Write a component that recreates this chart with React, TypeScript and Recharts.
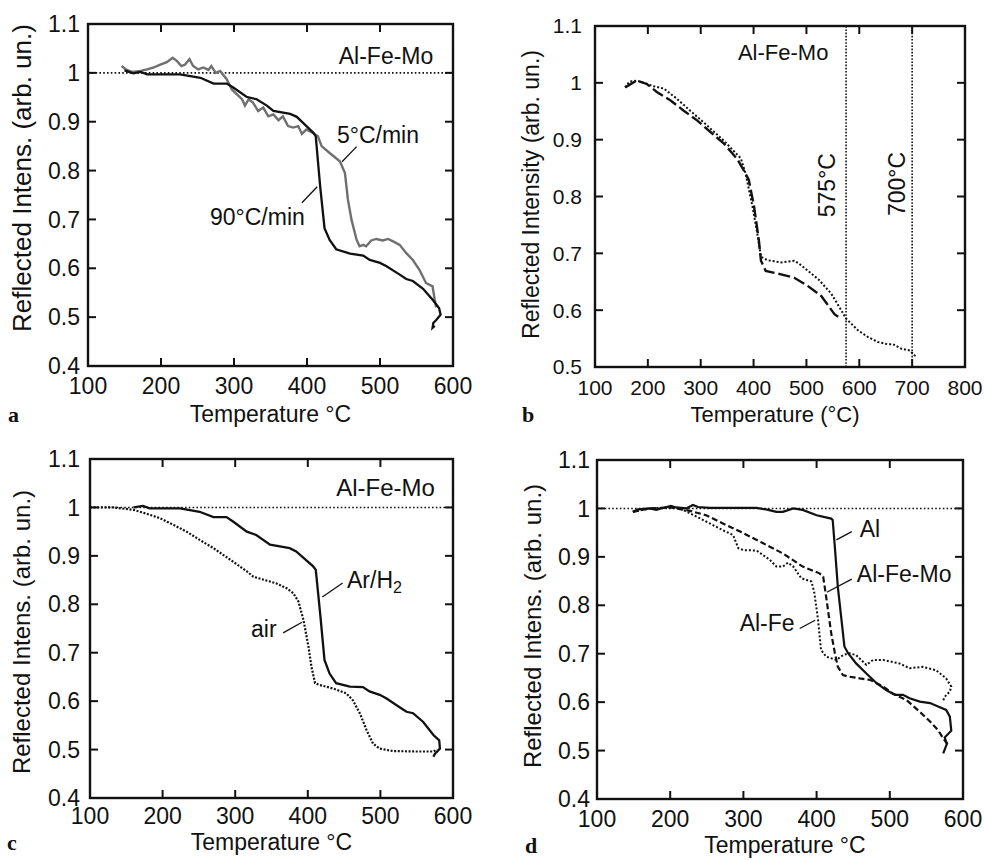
import { LineChart, Line, XAxis, YAxis, ReferenceLine, ReferenceDot, Label } from "recharts";

const INK = "#111";
const FONT = '"Liberation Sans", Arial, Helvetica, sans-serif';
const SERIF = '"Liberation Serif", "DejaVu Serif", serif';

// panel a: heating rate, Al-Fe-Mo
const aFastT = [150, 162, 172, 181, 200, 226, 254, 272, 290, 299, 317, 331, 345, 354, 377, 386, 409, 412, 418, 424, 431, 440, 459, 477, 486, 500, 509, 527, 536, 545, 559, 573, 581, 583, 577, 573, 572, 575];
const aFastV = [1.005, 0.999, 1.002, 0.997, 0.997, 0.997, 0.99, 0.978, 0.978, 0.97, 0.951, 0.946, 0.933, 0.922, 0.916, 0.91, 0.877, 0.87, 0.768, 0.682, 0.658, 0.639, 0.63, 0.626, 0.617, 0.611, 0.604, 0.587, 0.578, 0.574, 0.558, 0.534, 0.518, 0.505, 0.494, 0.488, 0.478, 0.482];
const aSlowT = [146, 153, 160, 172, 181, 190, 199, 208, 216, 222, 228, 233, 239, 244, 251, 258, 265, 269, 275, 281, 290, 297, 304, 311, 315, 320, 326, 333, 340, 347, 354, 361, 367, 374, 381, 388, 393, 399, 408, 415, 420, 431, 445, 452, 456, 461, 468, 472, 477, 481, 488, 495, 504, 511, 518, 527, 536, 545, 554, 563, 572, 575, 577];
const aSlowV = [1.014, 1.006, 1.002, 1.004, 1.007, 1.011, 1.017, 1.022, 1.031, 1.024, 1.014, 1.017, 1.028, 1.014, 1.007, 1.011, 1.006, 1.014, 1.0, 1.004, 0.987, 0.966, 0.956, 0.946, 0.933, 0.946, 0.939, 0.922, 0.929, 0.911, 0.915, 0.903, 0.911, 0.891, 0.888, 0.891, 0.875, 0.884, 0.877, 0.87, 0.85, 0.836, 0.819, 0.795, 0.741, 0.699, 0.658, 0.645, 0.648, 0.645, 0.657, 0.66, 0.657, 0.66, 0.655, 0.648, 0.631, 0.617, 0.597, 0.57, 0.563, 0.535, 0.52];

// panel b: two runs up to 575 and 700 C
const bDotT = [157, 165, 179, 192, 211, 230, 255, 280, 306, 344, 376, 385, 398, 407, 414, 426, 452, 477, 486, 502, 524, 547, 562, 575, 585, 597, 616, 635, 654, 664, 680, 696, 705, 704];
const bDotV = [0.992, 1.002, 1.004, 1.0, 0.994, 0.99, 0.972, 0.951, 0.93, 0.898, 0.867, 0.84, 0.782, 0.735, 0.694, 0.688, 0.684, 0.687, 0.682, 0.67, 0.653, 0.629, 0.606, 0.585, 0.576, 0.565, 0.553, 0.544, 0.54, 0.54, 0.532, 0.529, 0.52, 0.515];
const bDashT = [157, 179, 198, 217, 243, 268, 293, 319, 344, 369, 382, 391, 401, 410, 414, 423, 452, 477, 502, 528, 553, 565];
const bDashV = [0.992, 1.004, 0.998, 0.984, 0.969, 0.951, 0.934, 0.913, 0.893, 0.866, 0.845, 0.829, 0.782, 0.723, 0.687, 0.669, 0.663, 0.657, 0.643, 0.625, 0.593, 0.585];

// panel c: atmosphere
const cArT = [160, 173, 182, 224, 251, 270, 288, 297, 316, 329, 348, 375, 384, 407, 411, 417, 423, 430, 439, 458, 476, 485, 499, 508, 527, 536, 545, 559, 573, 581, 582, 575, 573];
const cArV = [1.0, 1.003, 0.998, 0.998, 0.991, 0.98, 0.98, 0.971, 0.95, 0.943, 0.923, 0.916, 0.909, 0.879, 0.871, 0.781, 0.685, 0.657, 0.637, 0.63, 0.629, 0.62, 0.613, 0.606, 0.587, 0.578, 0.575, 0.557, 0.53, 0.519, 0.502, 0.491, 0.485];
const cAirT = [100, 132, 160, 178, 196, 215, 233, 251, 270, 297, 316, 325, 343, 357, 371, 380, 387, 394, 401, 405, 410, 417, 435, 453, 462, 472, 481, 490, 499, 517, 550, 573, 578];
const cAirV = [1.0, 1.0, 0.995, 0.987, 0.978, 0.964, 0.95, 0.933, 0.916, 0.888, 0.868, 0.857, 0.849, 0.843, 0.833, 0.823, 0.806, 0.768, 0.712, 0.671, 0.637, 0.633, 0.626, 0.616, 0.602, 0.574, 0.54, 0.512, 0.502, 0.497, 0.496, 0.496, 0.5];

// panel d: alloy comparison
const dAlT = [149, 156, 172, 181, 190, 201, 208, 222, 231, 238, 254, 272, 318, 331, 345, 354, 368, 381, 400, 420, 422, 425, 429, 434, 438, 443, 454, 468, 482, 495, 507, 518, 527, 541, 555, 566, 577, 582, 584, 575, 578, 573];
const dAlV = [0.993, 0.998, 1.0, 0.997, 1.001, 1.005, 1.002, 1.0, 1.007, 1.003, 1.001, 1.001, 1.001, 0.998, 0.993, 0.993, 1.0, 0.997, 0.986, 0.979, 0.976, 0.919, 0.838, 0.77, 0.715, 0.701, 0.68, 0.659, 0.639, 0.625, 0.615, 0.615, 0.608, 0.601, 0.598, 0.591, 0.584, 0.57, 0.541, 0.527, 0.514, 0.494];
const dMoT = [149, 172, 201, 227, 249, 272, 300, 327, 354, 381, 404, 409, 413, 420, 425, 429, 436, 443, 459, 473, 491, 504, 523, 541, 555, 566, 573, 580];
const dMoV = [0.993, 1.0, 1.002, 0.995, 0.986, 0.969, 0.949, 0.928, 0.907, 0.88, 0.866, 0.859, 0.818, 0.742, 0.701, 0.673, 0.656, 0.653, 0.649, 0.646, 0.632, 0.618, 0.604, 0.58, 0.56, 0.542, 0.525, 0.511];
const dFeT = [149, 172, 201, 213, 227, 249, 272, 286, 293, 300, 318, 336, 345, 354, 361, 368, 379, 393, 397, 402, 406, 413, 427, 436, 445, 454, 468, 477, 491, 513, 527, 545, 563, 577, 584, 582, 575, 572];
const dFeV = [0.993, 1.0, 1.002, 1.0, 0.99, 0.973, 0.955, 0.945, 0.918, 0.914, 0.913, 0.894, 0.88, 0.88, 0.888, 0.88, 0.856, 0.849, 0.825, 0.77, 0.708, 0.694, 0.687, 0.697, 0.701, 0.697, 0.677, 0.687, 0.687, 0.68, 0.67, 0.673, 0.666, 0.649, 0.632, 0.622, 0.611, 0.6];

const tempTicks = [100, 200, 300, 400, 500, 600];
const tempTicksWide = [100, 200, 300, 400, 500, 600, 700, 800];
const intensTicks = [0.4, 0.5, 0.6, 0.7, 0.8, 0.9, 1, 1.1];
const intensTicksB = [0.5, 0.6, 0.7, 0.8, 0.9, 1, 1.1];

type Pt = { t: number; v: number };
const zip = (ts: number[], vs: number[]): Pt[] => ts.map((t, i) => ({ t, v: vs[i] }));

type Series = { name: string; data: Pt[]; color: string; width: number; dash?: string };
type Note = { t: number; v: number; text: string; anchor: "start" | "middle" | "end"; sub?: string; size?: number; rotate?: boolean };
type Leader = [number, number, number, number];

interface PanelProps {
  left: number;
  top: number;
  width: number;
  height: number;
  marginTop: number;
  marginRight: number;
  yWidth: number;
  xHeight: number;
  xTicks: number[];
  yTicks: number[];
  tickFont: number;
  xTickMargin: number;
  yTickMargin: number;
  series: Series[];
  notes: Note[];
  leaders: Leader[];
  refY?: number;
  refX?: number[];
  xTitle: string;
  xTitleFont: number;
  xTitleDy: number;
  xTitleDx: number;
  yTitle: string;
  yTitleFont: number;
  yTitleX: number;
  yTitleDy: number;
  letter: string;
  letterX: number;
}

const TICK_LEN = 8;

function Panel(p: PanelProps) {
  // each axis runs exactly from its first to its last tick
  const xLo = p.xTicks[0];
  const xHi = p.xTicks[p.xTicks.length - 1];
  const yLo = p.yTicks[0];
  const yHi = p.yTicks[p.yTicks.length - 1];
  const plotW = p.width - p.yWidth - p.marginRight;
  const plotH = p.height - p.marginTop - p.xHeight;

  // tick label plus inward tick marks on the bottom and top edges
  const XTick = (props: any) => {
    const { x, y, payload } = props;
    const base = y - p.xTickMargin;
    const inner = payload.value !== xLo && payload.value !== xHi;
    return (
      <g>
        {inner && <line x1={x} x2={x} y1={base} y2={base - TICK_LEN} stroke={INK} strokeWidth={2} />}
        {inner && <line x1={x} x2={x} y1={base - plotH} y2={base - plotH + TICK_LEN} stroke={INK} strokeWidth={2} />}
        <text x={x} y={y} dy="0.71em" textAnchor="middle" fontSize={p.tickFont} fontFamily={FONT} fill={INK}>
          {payload.value}
        </text>
      </g>
    );
  };

  // tick label plus inward tick marks on the left and right edges
  const YTick = (props: any) => {
    const { x, y, payload } = props;
    const base = x + p.yTickMargin;
    const inner = payload.value !== yLo && payload.value !== yHi;
    return (
      <g>
        {inner && <line x1={base} x2={base + TICK_LEN} y1={y} y2={y} stroke={INK} strokeWidth={2} />}
        {inner && <line x1={base + plotW} x2={base + plotW - TICK_LEN} y1={y} y2={y} stroke={INK} strokeWidth={2} />}
        <text x={x} y={y} dy="0.355em" textAnchor="end" fontSize={p.tickFont} fontFamily={FONT} fill={INK}>
          {payload.value}
        </text>
      </g>
    );
  };

  return (
    <div style={{ position: "absolute", left: p.left, top: p.top, width: p.width, height: p.height }}>
      <LineChart
        width={p.width}
        height={p.height}
        margin={{ top: p.marginTop, right: p.marginRight, left: 0, bottom: 0 }}
      >
        <XAxis
          dataKey="t"
          type="number"
          domain={[xLo, xHi]}
          ticks={p.xTicks}
          interval={0}
          height={p.xHeight}
          tickSize={0}
          tickMargin={p.xTickMargin}
          axisLine={false}
          tickLine={false}
          tick={XTick}
        >
          <Label
            content={({ viewBox }: any) => {
              const base = viewBox.y + p.xTitleDy;
              return (
                <g>
                  {/* box frame around the plot area */}
                  <rect
                    x={viewBox.x}
                    y={viewBox.y - plotH}
                    width={viewBox.width}
                    height={plotH}
                    fill="none"
                    stroke={INK}
                    strokeWidth={2.4}
                  />
                  <text x={viewBox.x + viewBox.width / 2 + p.xTitleDx} y={base} textAnchor="middle" fontSize={p.xTitleFont} fontFamily={FONT} fill={INK}>
                    {p.xTitle}
                  </text>
                  <text x={p.letterX} y={base} fontSize={22} fontWeight="bold" fontFamily={SERIF} fill={INK}>
                    {p.letter}
                  </text>
                </g>
              );
            }}
          />
        </XAxis>
        <YAxis
          type="number"
          domain={[yLo, yHi]}
          ticks={p.yTicks}
          interval={0}
          width={p.yWidth}
          tickSize={0}
          tickMargin={p.yTickMargin}
          axisLine={false}
          tickLine={false}
          tick={YTick}
        >
          <Label
            content={({ viewBox }: any) => {
              const cx = p.yTitleX;
              const cy = viewBox.y + viewBox.height / 2 + p.yTitleDy;
              return (
                <text x={cx} y={cy} transform={`rotate(-90, ${cx}, ${cy})`} textAnchor="middle" dominantBaseline="central" fontSize={p.yTitleFont} fontFamily={FONT} fill={INK}>
                  {p.yTitle}
                </text>
              );
            }}
          />
        </YAxis>

        {p.refY !== undefined && (
          <ReferenceLine y={p.refY} stroke={INK} strokeWidth={1.6} strokeDasharray="1.6 2.2" />
        )}
        {(p.refX || []).map((x) => (
          <ReferenceLine key={x} x={x} stroke={INK} strokeWidth={1.6} strokeDasharray="1.6 1.6" />
        ))}

        {p.series.map((s) => (
          <Line
            key={s.name}
            data={s.data}
            dataKey="v"
            type="linear"
            stroke={s.color}
            strokeWidth={s.width}
            strokeDasharray={s.dash}
            dot={false}
            activeDot={false}
            isAnimationActive={false}
          />
        ))}

        {p.leaders.map(([ta, va, tb, vb], i) => (
          <ReferenceLine
            key={i}
            segment={[{ x: ta, y: va }, { x: tb, y: vb }]}
            stroke={INK}
            strokeWidth={1.3}
          />
        ))}

        {p.notes.map((n) => (
          <ReferenceDot
            key={n.text}
            x={n.t}
            y={n.v}
            r={0}
            shape={(props: any) => (
              <text
                x={props.cx}
                y={props.cy}
                transform={n.rotate ? `rotate(-90, ${props.cx}, ${props.cy})` : undefined}
                textAnchor={n.anchor}
                dominantBaseline={n.rotate ? "auto" : "central"}
                fontSize={n.size || 23}
                fontFamily={FONT}
                fill={INK}
              >
                {n.text}
                {n.sub && (
                  <tspan dy={7} fontSize={(n.size || 23) * 0.7}>
                    {n.sub}
                  </tspan>
                )}
              </text>
            )}
          />
        ))}
      </LineChart>
    </div>
  );
}

export default function App() {
  return (
    <div style={{ position: "absolute", left: 0, top: 0, width: 984, height: 860, background: "#fff", fontFamily: FONT }}>
      <Panel
        left={0}
        top={0}
        width={480}
        height={440}
        marginTop={24}
        marginRight={27}
        yWidth={88}
        xHeight={74}
        xTicks={tempTicks}
        yTicks={intensTicks}
        tickFont={23}
        xTickMargin={12}
        yTickMargin={8}
        refY={1}
        series={[
          { name: "5°C/min", data: zip(aSlowT, aSlowV), color: "#6f6f6f", width: 2.4 },
          { name: "90°C/min", data: zip(aFastT, aFastV), color: INK, width: 2.3 },
        ]}
        notes={[
          { t: 573, v: 1.035, text: "Al-Fe-Mo", anchor: "end" },
          { t: 441, v: 0.873, text: "5°C/min", anchor: "start" },
          { t: 397, v: 0.705, text: "90°C/min", anchor: "end" },
        ]}
        leaders={[
          [468, 0.849, 448, 0.818],
          [393, 0.734, 414, 0.767],
        ]}
        xTitle="Temperature °C"
        xTitleFont={23}
        xTitleDy={56}
        xTitleDx={0}
        yTitle="Reflected Intens. (arb. un.)"
        yTitleFont={26}
        yTitleX={22}
        yTitleDy={-17}
        letter="a"
        letterX={8}
      />
      <Panel
        left={490}
        top={0}
        width={494}
        height={440}
        marginTop={26}
        marginRight={19}
        yWidth={105}
        xHeight={73}
        xTicks={tempTicksWide}
        yTicks={intensTicksB}
        tickFont={21}
        xTickMargin={13}
        yTickMargin={13}
        refX={[575, 700]}
        series={[
          { name: "700", data: zip(bDotT, bDotV), color: INK, width: 2, dash: "2 2" },
          { name: "575", data: zip(bDashT, bDashV), color: INK, width: 2.4, dash: "12 4" },
        ]}
        notes={[
          { t: 456, v: 1.054, text: "Al-Fe-Mo", anchor: "middle", size: 22 },
          { t: 554, v: 0.82, text: "575°C", anchor: "middle", size: 23, rotate: true },
          { t: 686, v: 0.822, text: "700°C", anchor: "middle", size: 23, rotate: true },
        ]}
        leaders={[]}
        xTitle="Temperature (°C)"
        xTitleFont={22}
        xTitleDy={55}
        xTitleDx={-5}
        yTitle="Reflected Intensity (arb. un.)"
        yTitleFont={23}
        yTitleX={41}
        yTitleDy={-2}
        letter="b"
        letterX={32}
      />
      <Panel
        left={0}
        top={430}
        width={480}
        height={430}
        marginTop={29}
        marginRight={27}
        yWidth={90}
        xHeight={62}
        xTicks={tempTicks}
        yTicks={intensTicks}
        tickFont={23}
        xTickMargin={10}
        yTickMargin={10}
        refY={1}
        series={[
          { name: "air", data: zip(cAirT, cAirV), color: INK, width: 2.2, dash: "2 1.6" },
          { name: "Ar/H2", data: zip(cArT, cArV), color: INK, width: 2.3 },
        ]}
        notes={[
          { t: 575, v: 1.042, text: "Al-Fe-Mo", anchor: "end", size: 24 },
          { t: 454, v: 0.85, text: "Ar/H", sub: "2", anchor: "start" },
          { t: 357, v: 0.749, text: "air", anchor: "end" },
        ]}
        leaders={[
          [448, 0.844, 420, 0.815],
          [366, 0.741, 392, 0.763],
        ]}
        xTitle="Temperature °C"
        xTitleFont={23}
        xTitleDy={52}
        xTitleDx={0}
        yTitle="Reflected Intens. (arb. un.)"
        yTitleFont={24}
        yTitleX={21}
        yTitleDy={3.5}
        letter="c"
        letterX={7}
      />
      <Panel
        left={490}
        top={430}
        width={494}
        height={430}
        marginTop={30}
        marginRight={21}
        yWidth={107}
        xHeight={61}
        xTicks={tempTicks}
        yTicks={intensTicks}
        tickFont={23}
        xTickMargin={12}
        yTickMargin={7}
        refY={1}
        series={[
          { name: "Al-Fe", data: zip(dFeT, dFeV), color: INK, width: 2, dash: "2 2" },
          { name: "Al-Fe-Mo", data: zip(dMoT, dMoV), color: INK, width: 2.2, dash: "6 3" },
          { name: "Al", data: zip(dAlT, dAlV), color: INK, width: 2.2 },
        ]}
        notes={[
          { t: 459, v: 0.958, text: "Al", anchor: "start" },
          { t: 455, v: 0.865, text: "Al-Fe-Mo", anchor: "start" },
          { t: 370, v: 0.763, text: "Al-Fe", anchor: "end" },
        ]}
        leaders={[
          [448, 0.952, 427, 0.935],
          [448, 0.854, 414, 0.827],
          [377, 0.752, 398, 0.769],
        ]}
        xTitle="Temperature °C"
        xTitleFont={23}
        xTitleDy={54}
        xTitleDx={5}
        yTitle="Reflected Intens. (arb. un.)"
        yTitleFont={24}
        yTitleX={42}
        yTitleDy={-3.5}
        letter="d"
        letterX={35}
      />
    </div>
  );
}
